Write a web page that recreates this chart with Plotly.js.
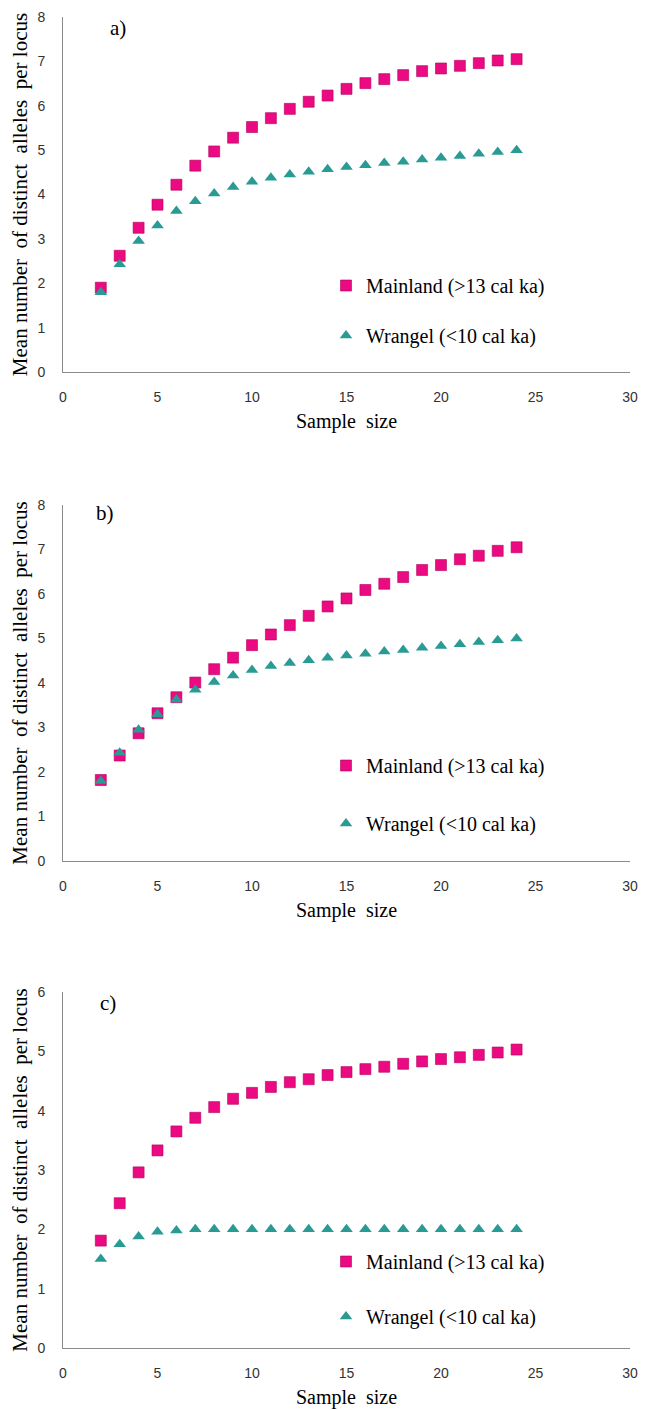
<!DOCTYPE html>
<html>
<head>
<meta charset="utf-8">
<script src="https://cdn.plot.ly/plotly-3.0.1.min.js"></script>
<style>html,body{margin:0;padding:0;background:#fff;}#chart{width:646px;height:1410px;}</style>
</head>
<body>
<div id="chart"></div>
<script>
const sampleSize = [2,3,4,5,6,7,8,9,10,11,12,13,14,15,16,17,18,19,20,21,22,23,24];

const mainlandA = [1.9,2.62,3.25,3.77,4.22,4.65,4.97,5.28,5.52,5.72,5.93,6.09,6.23,6.38,6.51,6.6,6.69,6.78,6.84,6.9,6.96,7.02,7.05];
const wrangelA  = [1.8,2.43,2.95,3.3,3.63,3.85,4.02,4.17,4.29,4.38,4.45,4.51,4.57,4.62,4.66,4.71,4.74,4.79,4.83,4.87,4.92,4.96,5.0];

const mainlandB = [1.82,2.37,2.87,3.32,3.68,4.01,4.31,4.57,4.85,5.09,5.3,5.51,5.72,5.9,6.09,6.23,6.38,6.54,6.65,6.78,6.86,6.97,7.05];
const wrangelB  = [1.8,2.43,2.95,3.3,3.63,3.85,4.02,4.17,4.29,4.38,4.45,4.51,4.57,4.62,4.66,4.71,4.74,4.79,4.83,4.87,4.92,4.96,5.0];

const mainlandC = [1.81,2.44,2.96,3.33,3.65,3.88,4.06,4.2,4.3,4.4,4.48,4.53,4.6,4.65,4.7,4.74,4.79,4.83,4.87,4.9,4.94,4.98,5.03];
const wrangelC  = [1.5,1.75,1.88,1.96,1.98,2.0,2.0,2.0,2.0,2.0,2.0,2.0,2.0,2.0,2.0,2.0,2.0,2.0,2.0,2.0,2.0,2.0,2.0];

const seriesNames = ['Mainland (>13 cal ka)', 'Wrangel (<10 cal ka)'];
const panelLabels = ['a)', 'b)', 'c)'];
const xTitle = 'Sample  size';
const yTitle = 'Mean number  of distinct  alleles  per locus';
const yMax = [8, 8, 6];

const PINK = '#EC0A82';
const TEAL = '#2A9A94';
const serif = 'Liberation Serif, Times New Roman, serif';
const sans = 'Liberation Sans, Arial, sans-serif';

const panels = [
  {m: mainlandA, w: wrangelA, xa: 'x',  ya: 'y',  lg: 'legend'},
  {m: mainlandB, w: wrangelB, xa: 'x2', ya: 'y2', lg: 'legend2'},
  {m: mainlandC, w: wrangelC, xa: 'x3', ya: 'y3', lg: 'legend3'}
];

const traces = [];
panels.forEach((p, i) => {
  traces.push({
    type: 'scatter', mode: 'markers', x: sampleSize, y: p.m, xaxis: p.xa, yaxis: p.ya,
    name: seriesNames[0], legend: p.lg, legendgroup: 'm' + i,
    marker: {symbol: 'square', size: 11, color: PINK, line: {color: '#B0005C', width: 0.6}}
  });
  traces.push({
    type: 'scatter', mode: 'markers', x: sampleSize, y: p.w, xaxis: p.xa, yaxis: p.ya,
    name: seriesNames[1], legend: p.lg, legendgroup: 'w' + i,
    marker: {symbol: 'triangle-up', size: 11, color: TEAL, line: {width: 0}}
  });
});

const H = 1410, W = 646, ML = 63, MR = 16;
const boxes = [[17, 372], [505, 861], [992, 1348]];
function dom(b) { return [(H - b[1]) / H, (H - b[0]) / H]; }
function px2x(px) { return (px - ML) / (W - ML - MR); }
function px2y(py) { return (H - py) / H; }

function xaxis(anchor, i) {
  return {
    domain: [0, 1], anchor: anchor, range: [0, 30], dtick: 5, tick0: 0,
    showgrid: false, zeroline: false, showline: true, linecolor: '#8a8a8a', linewidth: 1,
    ticks: '', ticklabelstandoff: 12, automargin: false,
    tickfont: {family: sans, size: 14, color: '#333'},
    title: {text: xTitle, font: {family: serif, size: 20, color: '#000'}, standoff: 10}
  };
}
function yaxis(anchor, i) {
  return {
    domain: dom(boxes[i]), anchor: anchor, range: [0, yMax[i]], dtick: 1, tick0: 0,
    showgrid: false, zeroline: false, showline: true, linecolor: '#8a8a8a', linewidth: 1,
    ticks: '', ticklabelstandoff: 14, automargin: false,
    tickfont: {family: sans, size: 14, color: '#333'},
    title: {text: yTitle, font: {family: serif, size: 21, color: '#000'}, standoff: 4}
  };
}

const legendPos = [[288, 47], [768, 55], [1264, 52]];
function legend(i) {
  const lp = legendPos[i];
  return {
    xref: 'paper', yref: 'paper',
    x: px2x(326), y: px2y(lp[0] - 22), xanchor: 'left', yanchor: 'top',
    bgcolor: 'rgba(0,0,0,0)', borderwidth: 0,
    font: {family: serif, size: 20, color: '#000'},
    tracegroupgap: lp[1] - 26, itemclick: false
  };
}

const labelPos = [[118, 28], [105, 513], [108, 1003]];
const annotations = panelLabels.map((t, i) => ({
  text: t, xref: 'paper', yref: 'paper', showarrow: false,
  x: px2x(labelPos[i][0]), y: px2y(labelPos[i][1]),
  xanchor: 'center', yanchor: 'middle',
  font: {family: serif, size: 21, color: '#000'}
}));

const layout = {
  width: W, height: H,
  margin: {l: ML, r: MR, t: 0, b: 0, autoexpand: false},
  paper_bgcolor: '#fff', plot_bgcolor: '#fff',
  showlegend: true,
  xaxis: xaxis('y', 0), yaxis: yaxis('x', 0),
  xaxis2: xaxis('y2', 1), yaxis2: yaxis('x2', 1),
  xaxis3: xaxis('y3', 2), yaxis3: yaxis('x3', 2),
  legend: legend(0), legend2: legend(1), legend3: legend(2),
  annotations: annotations
};

Plotly.newPlot('chart', traces, layout, {staticPlot: true, displayModeBar: false});
</script>
</body>
</html>
